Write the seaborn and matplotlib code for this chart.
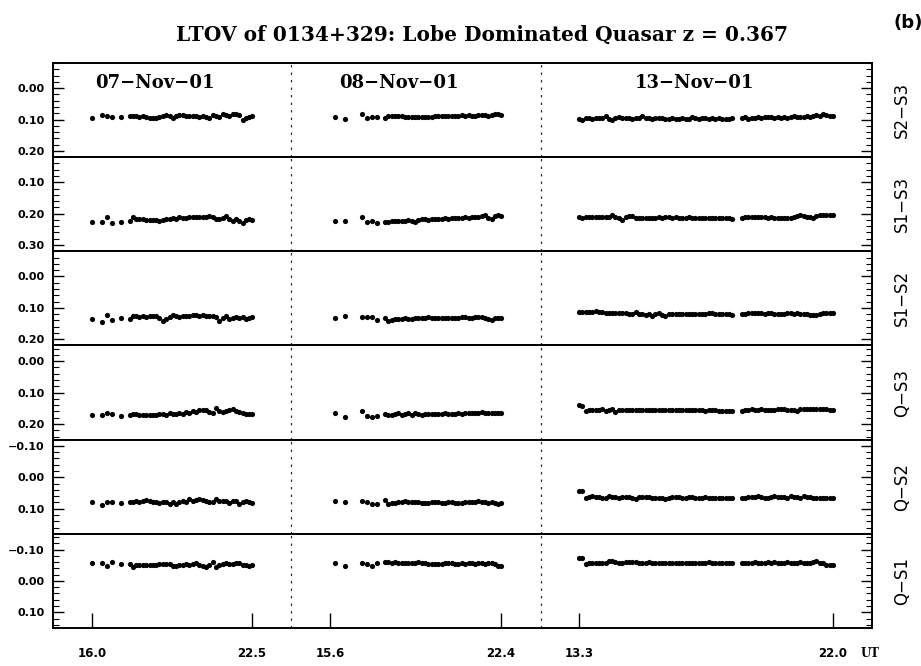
import numpy as np
import pandas as pd
import matplotlib
matplotlib.use("Agg")
import matplotlib.pyplot as plt
import seaborn as sns
from matplotlib.ticker import MultipleLocator, FuncFormatter

# ---------------- data ----------------
night_labels = ["07\u2212Nov\u221201", "08\u2212Nov\u221201", "13\u2212Nov\u221201"]
series_names = ["S2\u2212S3", "S1\u2212S3", "S1\u2212S2", "Q\u2212S3", "Q\u2212S2", "Q\u2212S1"]
tick_ut = [[16.0, 22.5], [15.6, 22.4], [13.3, 22.0]]

ut_n1 = [16.00, 16.42, 16.62, 16.83, 17.19,
         17.53, 17.66, 17.80, 17.93, 18.07, 18.20, 18.34, 18.47, 18.61, 18.74,
         18.88, 19.01, 19.15, 19.28, 19.42, 19.55, 19.69, 19.82, 19.96, 20.09,
         20.23, 20.36, 20.50, 20.63, 20.77, 20.90, 21.04, 21.17, 21.31, 21.44,
         21.58, 21.71, 21.85, 21.98, 22.12, 22.25, 22.39, 22.50]
ut_n2 = [15.80, 16.20, 16.86, 17.06, 17.26, 17.46,
         17.79, 17.92, 18.05, 18.19, 18.32, 18.45, 18.58, 18.72, 18.85, 18.98,
         19.12, 19.25, 19.38, 19.51, 19.65, 19.78, 19.91, 20.04, 20.18, 20.31,
         20.44, 20.58, 20.71, 20.84, 20.97, 21.11, 21.24, 21.37, 21.50, 21.64,
         21.77, 21.90, 22.04, 22.17, 22.30, 22.40]
ut_n3 = [13.30, 13.41, 13.53, 13.64, 13.76, 13.87, 13.98, 14.10, 14.21, 14.33,
         14.44, 14.55, 14.67, 14.78, 14.90, 15.01, 15.12, 15.24, 15.35, 15.47,
         15.58, 15.69, 15.81, 15.92, 16.04, 16.15, 16.26, 16.38, 16.49, 16.61,
         16.72, 16.83, 16.95, 17.06, 17.18, 17.29, 17.40, 17.52, 17.63, 17.75,
         17.86, 17.97, 18.09, 18.20, 18.32, 18.43, 18.54,
         18.88, 18.99, 19.10, 19.21, 19.32, 19.44, 19.55, 19.66, 19.77, 19.88,
         19.99, 20.10, 20.21, 20.32, 20.43, 20.55, 20.66, 20.77, 20.88, 20.99,
         21.10, 21.21, 21.32, 21.43, 21.55, 21.66, 21.77, 21.88, 22.00]

# S2-S3
s2s3_n1 = [0.094, 0.086, 0.088, 0.091, 0.093, 0.089, 0.088, 0.090, 0.093, 0.089,
           0.092, 0.095, 0.096, 0.094, 0.091, 0.088, 0.086, 0.090, 0.094, 0.090,
           0.087, 0.086, 0.088, 0.089, 0.090, 0.090, 0.092, 0.088, 0.091, 0.094,
           0.087, 0.090, 0.092, 0.082, 0.086, 0.088, 0.084, 0.083, 0.087, 0.100,
           0.094, 0.091, 0.090]
s2s3_n2 = [0.091, 0.099, 0.084, 0.095, 0.093, 0.091, 0.094, 0.090, 0.089, 0.089,
           0.089, 0.090, 0.091, 0.092, 0.092, 0.091, 0.092, 0.093, 0.092, 0.091,
           0.091, 0.090, 0.089, 0.090, 0.088, 0.089, 0.088, 0.090, 0.089, 0.087,
           0.088, 0.086, 0.088, 0.088, 0.085, 0.087, 0.086, 0.088, 0.087, 0.084,
           0.082, 0.085]
s2s3_n3 = [0.098, 0.100, 0.096, 0.096, 0.097, 0.095, 0.096, 0.096, 0.090, 0.098,
           0.100, 0.095, 0.092, 0.095, 0.096, 0.096, 0.097, 0.095, 0.094, 0.090,
           0.096, 0.096, 0.097, 0.096, 0.096, 0.096, 0.097, 0.097, 0.096, 0.097,
           0.098, 0.096, 0.098, 0.097, 0.093, 0.095, 0.097, 0.096, 0.094, 0.097,
           0.095, 0.097, 0.096, 0.097, 0.097, 0.098, 0.096,
           0.096, 0.092, 0.097, 0.095, 0.094, 0.092, 0.095, 0.093, 0.093, 0.091,
           0.094, 0.093, 0.094, 0.093, 0.094, 0.093, 0.090, 0.093, 0.091, 0.092,
           0.090, 0.091, 0.089, 0.087, 0.089, 0.084, 0.087, 0.089, 0.089]
# S1-S3
s1s3_n1 = [0.228, 0.227, 0.212, 0.230, 0.226, 0.224, 0.212, 0.217, 0.218, 0.218,
           0.219, 0.220, 0.220, 0.221, 0.224, 0.219, 0.216, 0.216, 0.214, 0.217,
           0.212, 0.214, 0.213, 0.212, 0.210, 0.211, 0.212, 0.210, 0.211, 0.209,
           0.212, 0.216, 0.218, 0.214, 0.208, 0.216, 0.222, 0.218, 0.223, 0.229,
           0.220, 0.218, 0.219]
s1s3_n2 = [0.224, 0.224, 0.212, 0.226, 0.224, 0.230, 0.226, 0.226, 0.224, 0.224,
           0.223, 0.222, 0.222, 0.221, 0.223, 0.225, 0.220, 0.218, 0.218, 0.219,
           0.216, 0.217, 0.218, 0.216, 0.215, 0.216, 0.214, 0.215, 0.213, 0.214,
           0.212, 0.213, 0.211, 0.210, 0.212, 0.208, 0.205, 0.214, 0.216, 0.206,
           0.204, 0.208]
s1s3_n3 = [0.210, 0.214, 0.210, 0.210, 0.210, 0.211, 0.211, 0.211, 0.212, 0.210,
           0.204, 0.211, 0.214, 0.221, 0.210, 0.208, 0.209, 0.213, 0.214, 0.214,
           0.213, 0.214, 0.213, 0.213, 0.212, 0.213, 0.212, 0.212, 0.213, 0.212,
           0.213, 0.214, 0.213, 0.212, 0.213, 0.215, 0.213, 0.213, 0.213, 0.214,
           0.214, 0.214, 0.213, 0.214, 0.215, 0.214, 0.217,
           0.213, 0.212, 0.210, 0.212, 0.212, 0.212, 0.212, 0.212, 0.213, 0.212,
           0.213, 0.213, 0.213, 0.215, 0.215, 0.213, 0.210, 0.207, 0.204, 0.208,
           0.210, 0.210, 0.214, 0.209, 0.205, 0.203, 0.203, 0.203, 0.203]
# S1-S2
s1s2_n1 = [0.137, 0.144, 0.124, 0.140, 0.134, 0.135, 0.127, 0.127, 0.129, 0.125,
           0.129, 0.127, 0.125, 0.127, 0.132, 0.141, 0.135, 0.128, 0.124, 0.125,
           0.129, 0.127, 0.127, 0.125, 0.124, 0.124, 0.126, 0.122, 0.125, 0.127,
           0.125, 0.129, 0.142, 0.131, 0.127, 0.135, 0.132, 0.130, 0.131, 0.130,
           0.136, 0.131, 0.130]
s1s2_n2 = [0.133, 0.126, 0.128, 0.128, 0.129, 0.139, 0.132, 0.142, 0.139, 0.137,
           0.136, 0.135, 0.134, 0.135, 0.136, 0.134, 0.133, 0.134, 0.131, 0.130,
           0.132, 0.133, 0.134, 0.132, 0.133, 0.132, 0.134, 0.131, 0.132, 0.130,
           0.129, 0.131, 0.132, 0.130, 0.128, 0.130, 0.132, 0.136, 0.138, 0.134,
           0.132, 0.131]
s1s2_n3 = [0.113, 0.114, 0.114, 0.114, 0.113, 0.109, 0.112, 0.113, 0.115, 0.117,
           0.117, 0.117, 0.116, 0.118, 0.118, 0.120, 0.119, 0.114, 0.120, 0.120,
           0.122, 0.119, 0.125, 0.120, 0.118, 0.122, 0.126, 0.119, 0.120, 0.120,
           0.120, 0.121, 0.121, 0.120, 0.120, 0.121, 0.121, 0.121, 0.121, 0.118,
           0.118, 0.120, 0.121, 0.119, 0.119, 0.121, 0.123,
           0.120, 0.119, 0.117, 0.116, 0.118, 0.118, 0.118, 0.120, 0.118, 0.117,
           0.119, 0.120, 0.119, 0.120, 0.118, 0.116, 0.119, 0.118, 0.119, 0.120,
           0.119, 0.122, 0.124, 0.124, 0.120, 0.118, 0.117, 0.117, 0.117]
# Q-S3
qs3_n1 = [0.171, 0.171, 0.165, 0.169, 0.175, 0.170, 0.169, 0.169, 0.170, 0.171,
          0.171, 0.171, 0.171, 0.171, 0.169, 0.169, 0.170, 0.164, 0.168, 0.168,
          0.165, 0.168, 0.163, 0.165, 0.158, 0.162, 0.155, 0.155, 0.157, 0.161,
          0.165, 0.148, 0.160, 0.161, 0.160, 0.157, 0.153, 0.158, 0.163, 0.166,
          0.168, 0.168, 0.168]
qs3_n2 = [0.165, 0.179, 0.158, 0.174, 0.179, 0.176, 0.169, 0.170, 0.172, 0.169,
          0.166, 0.170, 0.167, 0.165, 0.171, 0.166, 0.169, 0.170, 0.168, 0.167,
          0.167, 0.168, 0.169, 0.167, 0.166, 0.168, 0.169, 0.167, 0.166, 0.167,
          0.166, 0.165, 0.166, 0.165, 0.164, 0.163, 0.164, 0.164, 0.165, 0.165,
          0.165, 0.165]
qs3_n3 = [0.140, 0.142, 0.158, 0.157, 0.157, 0.157, 0.156, 0.153, 0.160, 0.156,
          0.153, 0.161, 0.155, 0.154, 0.155, 0.156, 0.155, 0.155, 0.156, 0.156,
          0.156, 0.157, 0.156, 0.155, 0.156, 0.156, 0.157, 0.156, 0.156, 0.157,
          0.156, 0.157, 0.156, 0.156, 0.156, 0.157, 0.157, 0.156, 0.159, 0.157,
          0.156, 0.155, 0.158, 0.158, 0.158, 0.158, 0.158,
          0.158, 0.156, 0.157, 0.153, 0.156, 0.156, 0.153, 0.155, 0.156, 0.155,
          0.155, 0.153, 0.153, 0.153, 0.155, 0.154, 0.154, 0.158, 0.153, 0.152,
          0.152, 0.152, 0.152, 0.152, 0.153, 0.153, 0.152, 0.155, 0.155]
# Q-S2
qs2_n1 = [0.080, 0.087, 0.078, 0.080, 0.082, 0.080, 0.078, 0.076, 0.080, 0.076,
          0.073, 0.076, 0.078, 0.080, 0.082, 0.080, 0.078, 0.085, 0.080, 0.086,
          0.080, 0.075, 0.078, 0.070, 0.076, 0.072, 0.070, 0.072, 0.076, 0.078,
          0.080, 0.068, 0.074, 0.074, 0.076, 0.082, 0.074, 0.076, 0.084, 0.078,
          0.074, 0.080, 0.082]
qs2_n2 = [0.077, 0.078, 0.076, 0.080, 0.085, 0.085, 0.072, 0.085, 0.083, 0.081,
          0.080, 0.078, 0.076, 0.079, 0.080, 0.078, 0.080, 0.082, 0.083, 0.081,
          0.080, 0.078, 0.079, 0.081, 0.082, 0.080, 0.079, 0.081, 0.083, 0.082,
          0.079, 0.078, 0.080, 0.079, 0.077, 0.078, 0.080, 0.081, 0.079, 0.083,
          0.086, 0.083]
qs2_n3 = [0.043, 0.043, 0.065, 0.064, 0.060, 0.063, 0.062, 0.065, 0.066, 0.060,
          0.063, 0.064, 0.066, 0.063, 0.063, 0.064, 0.066, 0.068, 0.063, 0.064,
          0.062, 0.064, 0.065, 0.066, 0.066, 0.067, 0.069, 0.065, 0.064, 0.062,
          0.064, 0.066, 0.065, 0.064, 0.062, 0.066, 0.065, 0.066, 0.064, 0.065,
          0.065, 0.066, 0.066, 0.065, 0.065, 0.066, 0.066,
          0.066, 0.065, 0.064, 0.064, 0.062, 0.061, 0.062, 0.065, 0.066, 0.064,
          0.060, 0.063, 0.062, 0.064, 0.066, 0.061, 0.064, 0.063, 0.066, 0.061,
          0.063, 0.064, 0.066, 0.065, 0.066, 0.067, 0.067, 0.067, 0.067]
# Q-S1
qs1_n1 = [-0.056, -0.056, -0.047, -0.059, -0.053, -0.053, -0.045, -0.050, -0.050, -0.050,
          -0.050, -0.050, -0.051, -0.052, -0.053, -0.053, -0.054, -0.054, -0.046, -0.046,
          -0.050, -0.052, -0.053, -0.052, -0.054, -0.056, -0.050, -0.046, -0.043, -0.050,
          -0.061, -0.045, -0.050, -0.054, -0.056, -0.054, -0.055, -0.056, -0.058, -0.052,
          -0.050, -0.048, -0.050]
qs1_n2 = [-0.057, -0.048, -0.056, -0.055, -0.049, -0.056, -0.061, -0.060, -0.056, -0.060,
          -0.057, -0.056, -0.057, -0.058, -0.057, -0.058, -0.060, -0.057, -0.056, -0.054,
          -0.055, -0.054, -0.055, -0.053, -0.056, -0.057, -0.056, -0.054, -0.055, -0.058,
          -0.055, -0.056, -0.058, -0.054, -0.057, -0.056, -0.054, -0.057, -0.058, -0.055,
          -0.046, -0.049]
qs1_n3 = [-0.072, -0.072, -0.054, -0.056, -0.056, -0.057, -0.058, -0.056, -0.056, -0.062,
          -0.062, -0.060, -0.058, -0.058, -0.059, -0.059, -0.061, -0.059, -0.058, -0.058,
          -0.058, -0.059, -0.058, -0.057, -0.058, -0.058, -0.058, -0.057, -0.058, -0.058,
          -0.058, -0.057, -0.057, -0.058, -0.058, -0.057, -0.056, -0.056, -0.057, -0.059,
          -0.057, -0.058, -0.058, -0.057, -0.056, -0.057, -0.058,
          -0.057, -0.057, -0.057, -0.058, -0.059, -0.058, -0.057, -0.057, -0.059, -0.057,
          -0.060, -0.058, -0.057, -0.058, -0.061, -0.058, -0.057, -0.058, -0.060, -0.057,
          -0.058, -0.058, -0.060, -0.064, -0.058, -0.056, -0.052, -0.052, -0.052]

ut_by_night = [ut_n1, ut_n2, ut_n3]
values = {
    series_names[0]: [s2s3_n1, s2s3_n2, s2s3_n3],
    series_names[1]: [s1s3_n1, s1s3_n2, s1s3_n3],
    series_names[2]: [s1s2_n1, s1s2_n2, s1s2_n3],
    series_names[3]: [qs3_n1, qs3_n2, qs3_n3],
    series_names[4]: [qs2_n1, qs2_n2, qs2_n3],
    series_names[5]: [qs1_n1, qs1_n2, qs1_n3],
}

# ---------------- layout (broken UT axis) ----------------
night_axis_span = [(0.0476, 0.2430), (0.3382, 0.5470), (0.6422, 0.9524)]
dividers = [0.2906, 0.5960]
ylims = [(0.22, -0.08), (0.32, 0.02), (0.22, -0.08),
         (0.25, -0.05), (0.18, -0.12), (0.15, -0.15)]


def to_axis(night, ut):
    u0, u1 = tick_ut[night]
    a, b = night_axis_span[night]
    return a + (np.asarray(ut) - u0) / (u1 - u0) * (b - a)


rows = []
for sname, per_night in values.items():
    for ni, vals in enumerate(per_night):
        ut = ut_by_night[ni]
        for u, v in zip(ut, vals):
            rows.append((sname, ni, u, float(to_axis(ni, u)), v))
df = pd.DataFrame(rows, columns=["series", "night", "ut", "xpos", "value"])

# ---------------- drawing ----------------
sns.set_theme(style="white")
plt.rcParams["font.family"] = ["DejaVu Sans"]
plt.rcParams["font.weight"] = "bold"
plt.rcParams["axes.unicode_minus"] = True
plt.rcParams["text.color"] = "black"
plt.rcParams["axes.labelcolor"] = "black"
plt.rcParams["xtick.color"] = "black"
plt.rcParams["ytick.color"] = "black"
plt.rcParams["axes.edgecolor"] = "black"

fig = plt.figure(figsize=(9.21, 6.66), dpi=100)
left, right, bottom, top = 0.0575, 0.9468, 0.0571, 0.9054
h = (top - bottom) / 6


def yfmt(v, pos):
    if abs(v) < 1e-9:
        return "0.00"
    return f"{v:.2f}".replace("-", "\u2212")


axes = []
for i, sname in enumerate(series_names):
    ax = fig.add_axes([left, top - (i + 1) * h, right - left, h])
    axes.append(ax)
    sub = df[df["series"] == sname]
    sns.scatterplot(data=sub, x="xpos", y="value", color="black", s=14,
                    linewidth=0, marker="o", ax=ax, legend=False)
    ax.set_xlim(0, 1)
    ax.set_ylim(*ylims[i])
    ax.set_xlabel("")
    ax.set_ylabel("")
    ax.yaxis.set_major_locator(MultipleLocator(0.1))
    ax.yaxis.set_minor_locator(MultipleLocator(0.02))
    ax.yaxis.set_major_formatter(FuncFormatter(yfmt))
    ax.tick_params(axis="y", which="both", direction="in", left=True, right=True,
                   colors="black", labelsize=8, pad=6)
    ax.tick_params(axis="y", which="major", length=8, width=1)
    ax.tick_params(axis="y", which="minor", length=4, width=0.8)
    for sp in ax.spines.values():
        sp.set_linewidth(1.4)
        sp.set_color("black")
    for d in dividers:
        ax.axvline(d, color="#333333", lw=0.9, ls=(0, (2, 4)))
    ax.text(1.037, 0.5, sname, transform=ax.transAxes, rotation=90,
            ha="center", va="center", fontsize=12, fontweight="normal",
            color="black", family=["DejaVu Sans"])
    if i < 5:
        ax.tick_params(axis="x", which="both", bottom=False, top=False,
                       labelbottom=False)
    else:
        xt, xl = [], []
        for ni, pair in enumerate(tick_ut):
            for u in pair:
                xt.append(float(to_axis(ni, u)))
                xl.append(f"{u:.1f}")
        ax.set_xticks(xt)
        ax.set_xticklabels(xl)
        ax.tick_params(axis="x", which="major", bottom=True, top=False,
                       direction="in", length=11, width=1, pad=14,
                       labelsize=8.5, colors="black")
        ax.tick_params(axis="x", which="minor", bottom=False, top=False)

# night labels in top panel
night_label_x = [0.1245, 0.4225, 0.7827]
for lx, lab in zip(night_label_x, night_labels):
    axes[0].text(lx, 0.787, lab, transform=axes[0].transAxes, ha="center",
                 va="center", fontsize=13, fontweight="bold", color="black",
                 family=["DejaVu Serif"])

fig.text(0.523, 0.947, "LTOV of 0134+329: Lobe Dominated Quasar z = 0.367",
         ha="center", va="center", fontsize=14.5, fontweight="bold",
         color="black", family=["DejaVu Serif"])
fig.text(0.986, 0.966, "(b)", ha="center", va="center", fontsize=13,
         fontweight="bold", color="black", family=["DejaVu Sans"])
fig.text(0.945, 0.0195, "UT", ha="center", va="center", fontsize=8.5,
         fontweight="bold", color="black", family=["DejaVu Serif"])

fig.savefig("out.png", dpi=100)
